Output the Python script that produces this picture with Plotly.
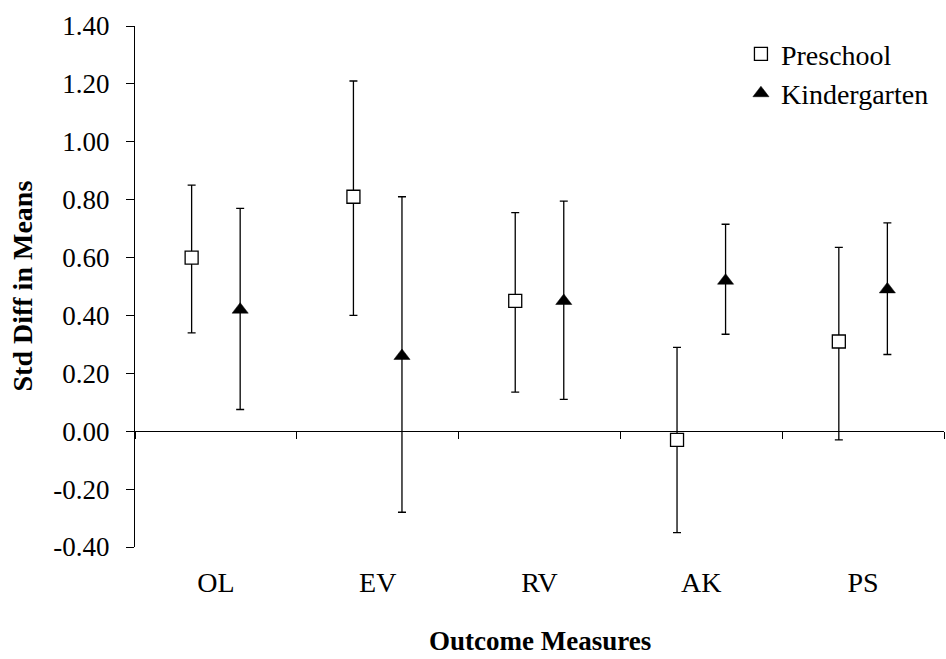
import plotly.graph_objects as go

categories = ["OL", "EV", "RV", "AK", "PS"]

preschool_mean = [0.60, 0.81, 0.45, -0.03, 0.31]
preschool_low = [0.34, 0.40, 0.135, -0.35, -0.03]
preschool_high = [0.85, 1.21, 0.755, 0.29, 0.635]

kinder_mean = [0.42, 0.26, 0.45, 0.52, 0.49]
kinder_low = [0.075, -0.28, 0.11, 0.335, 0.265]
kinder_high = [0.77, 0.81, 0.795, 0.715, 0.72]

y_tick_vals = [-0.4, -0.2, 0.0, 0.2, 0.4, 0.6, 0.8, 1.0, 1.2, 1.4]
y_tick_text = ["-0.40", "-0.20", "0.00", "0.20", "0.40", "0.60", "0.80", "1.00", "1.20", "1.40"]

FONT = "Liberation Serif"
OFFSET = 0.15

idx = list(range(len(categories)))
x_pre = [i - OFFSET for i in idx]
x_kin = [i + OFFSET for i in idx]

fig = go.Figure()

fig.add_trace(go.Scatter(
    x=x_pre, y=preschool_mean, mode="markers", name="Preschool",
    marker=dict(symbol="square", size=13, color="white",
                line=dict(color="black", width=1.3)),
    error_y=dict(type="data", symmetric=False,
                 array=[h - m for h, m in zip(preschool_high, preschool_mean)],
                 arrayminus=[m - l for l, m in zip(preschool_low, preschool_mean)],
                 color="black", thickness=1.3, width=4),
    xaxis="x", yaxis="y",
))

fig.add_trace(go.Scatter(
    x=x_kin, y=kinder_mean, mode="markers", name="Kindergarten",
    marker=dict(symbol="triangle-up", size=14, color="black",
                line=dict(color="black", width=0.5)),
    error_y=dict(type="data", symmetric=False,
                 array=[h - m for h, m in zip(kinder_high, kinder_mean)],
                 arrayminus=[m - l for l, m in zip(kinder_low, kinder_mean)],
                 color="black", thickness=1.3, width=4),
    xaxis="x", yaxis="y",
))

# invisible trace to carry the category label axis at the bottom
fig.add_trace(go.Scatter(
    x=idx, y=[None] * len(idx), mode="markers", showlegend=False,
    hoverinfo="skip", xaxis="x2", yaxis="y",
))

zero_frac = (0 - (-0.4)) / (1.4 - (-0.4))

fig.update_layout(
    width=946, height=659,
    margin=dict(l=135, r=2, t=26, b=112),
    paper_bgcolor="white", plot_bgcolor="white",
    font=dict(family=FONT, size=28, color="black"),
    showlegend=True,
    legend=dict(x=0.749, y=0.994, xanchor="left", yanchor="top",
                bgcolor="rgba(0,0,0,0)", borderwidth=0,
                font=dict(family=FONT, size=28, color="black"),
                itemwidth=30, tracegroupgap=0),
    xaxis=dict(
        range=[-0.5, len(categories) - 0.5],
        anchor="free", position=zero_frac,
        tickmode="array",
        tickvals=[i - 0.5 for i in range(len(categories) + 1)],
        showticklabels=False,
        ticks="outside", ticklen=7, tickwidth=1.3, tickcolor="black",
        showline=True, linecolor="black", linewidth=1.3,
        showgrid=False, zeroline=False,
    ),
    xaxis2=dict(
        range=[-0.5, len(categories) - 0.5],
        overlaying="x", anchor="y", side="bottom",
        tickmode="array", tickvals=idx, ticktext=categories,
        ticks="", showline=False, showgrid=False, zeroline=False,
        tickfont=dict(family=FONT, size=28, color="black"),
        ticklabelstandoff=16,
    ),
    yaxis=dict(
        range=[-0.4, 1.4],
        tickmode="array", tickvals=y_tick_vals, ticktext=y_tick_text,
        ticks="outside", ticklen=8, tickwidth=1.3, tickcolor="black",
        showline=True, linecolor="black", linewidth=1.3,
        showgrid=False, zeroline=False,
        tickfont=dict(family=FONT, size=27, color="black"),
        ticklabelstandoff=11,
    ),
    annotations=[
        dict(text="<b>Std Diff in Means</b>", xref="paper", yref="paper",
             x=(22 - 135) / 809, y=0.5, textangle=-90, showarrow=False,
             xanchor="center", yanchor="middle",
             font=dict(family=FONT, size=28, color="black")),
        dict(text="<b>Outcome Measures</b>", xref="paper", yref="paper",
             x=0.5, y=-(641 - 547) / 521, showarrow=False,
             xanchor="center", yanchor="middle",
             font=dict(family=FONT, size=27, color="black")),
    ],
)

fig.write_html("out.html",
               config={"displayModeBar": False},
               post_script="document.body.style.margin='0';document.body.style.overflow='hidden';")
